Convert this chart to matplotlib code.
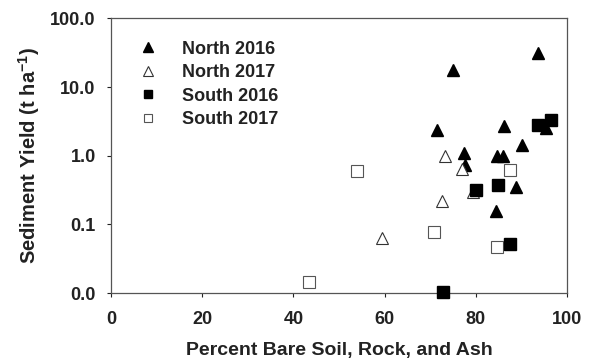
import numpy as np
import matplotlib.pyplot as plt
from matplotlib.ticker import FormatStrFormatter, NullLocator

plt.rcParams['font.family'] = ['Liberation Sans', 'DejaVu Sans']
plt.rcParams['font.weight'] = 'bold'
plt.rcParams['mathtext.fontset'] = 'custom'
plt.rcParams['mathtext.bf'] = 'Liberation Sans:bold'
plt.rcParams['mathtext.rm'] = 'Liberation Sans:bold'
plt.rcParams['mathtext.default'] = 'bf'

# data
n16_x = [93.7, 75.1, 71.4, 86.1, 95.3, 90.2, 77.5, 84.6, 86.0, 77.7, 88.9, 84.5]
n16_y = [31.0, 18.0, 2.4, 2.75, 2.5, 1.45, 1.1, 1.0, 1.0, 0.72, 0.35, 0.155]
n17_x = [73.3, 77.0, 79.5, 72.7, 59.5]
n17_y = [1.0, 0.63, 0.30, 0.22, 0.063]
s16_x = [93.7, 96.4, 80.0, 84.8, 87.6, 72.9]
s16_y = [2.8, 3.3, 0.32, 0.37, 0.052, 0.0102]
s17_x = [54.0, 87.4, 70.9, 84.7, 43.5]
s17_y = [0.59, 0.62, 0.077, 0.047, 0.0145]

fig = plt.figure(figsize=(5.9, 3.6), dpi=100)
ax = fig.add_axes([0.188, 0.186, 0.773, 0.763])

ax.plot(n16_x, n16_y, '^', color='black', ms=9, mec='black', label='North 2016', clip_on=False)
ax.plot(n17_x, n17_y, '^', color='white', ms=9, mec='#333333', mew=0.8, label='North 2017', clip_on=False)
ax.plot(s16_x, s16_y, 's', color='black', ms=8, mec='black', label='South 2016', clip_on=False, zorder=3)
ax.plot(s17_x, s17_y, 's', color='white', ms=8, mec='#555555', mew=0.8, label='South 2017', clip_on=False)

ax.set_yscale('log')
ax.set_ylim(0.01, 100)
ax.set_xlim(0, 100)
ax.set_xticks([0, 20, 40, 60, 80, 100])
ax.yaxis.set_major_formatter(FormatStrFormatter('%.1f'))
ax.yaxis.set_minor_locator(NullLocator())
ax.tick_params(direction='out', length=3, width=0.8, labelsize=13, pad=8, colors='#222222')
ax.tick_params(axis='x', pad=10)

for s in ax.spines.values():
    s.set_color('#555555')
    s.set_linewidth(0.9)

ax.set_xlabel('Percent Bare Soil, Rock, and Ash', fontsize=14, fontweight='bold', color='#222222', labelpad=10)
ax.set_ylabel(r'Sediment Yield (t ha$^{-1}$)', fontsize=14.5, fontweight='bold', color='#222222', labelpad=6)

leg = ax.legend(loc='upper left', frameon=False, fontsize=13, handletextpad=0.9, markerscale=0.78,
                labelspacing=0.36, borderaxespad=0, bbox_to_anchor=(0.026, 0.945))
for t in leg.get_texts():
    t.set_color('#222222')

plt.savefig('out.png', dpi=100)
